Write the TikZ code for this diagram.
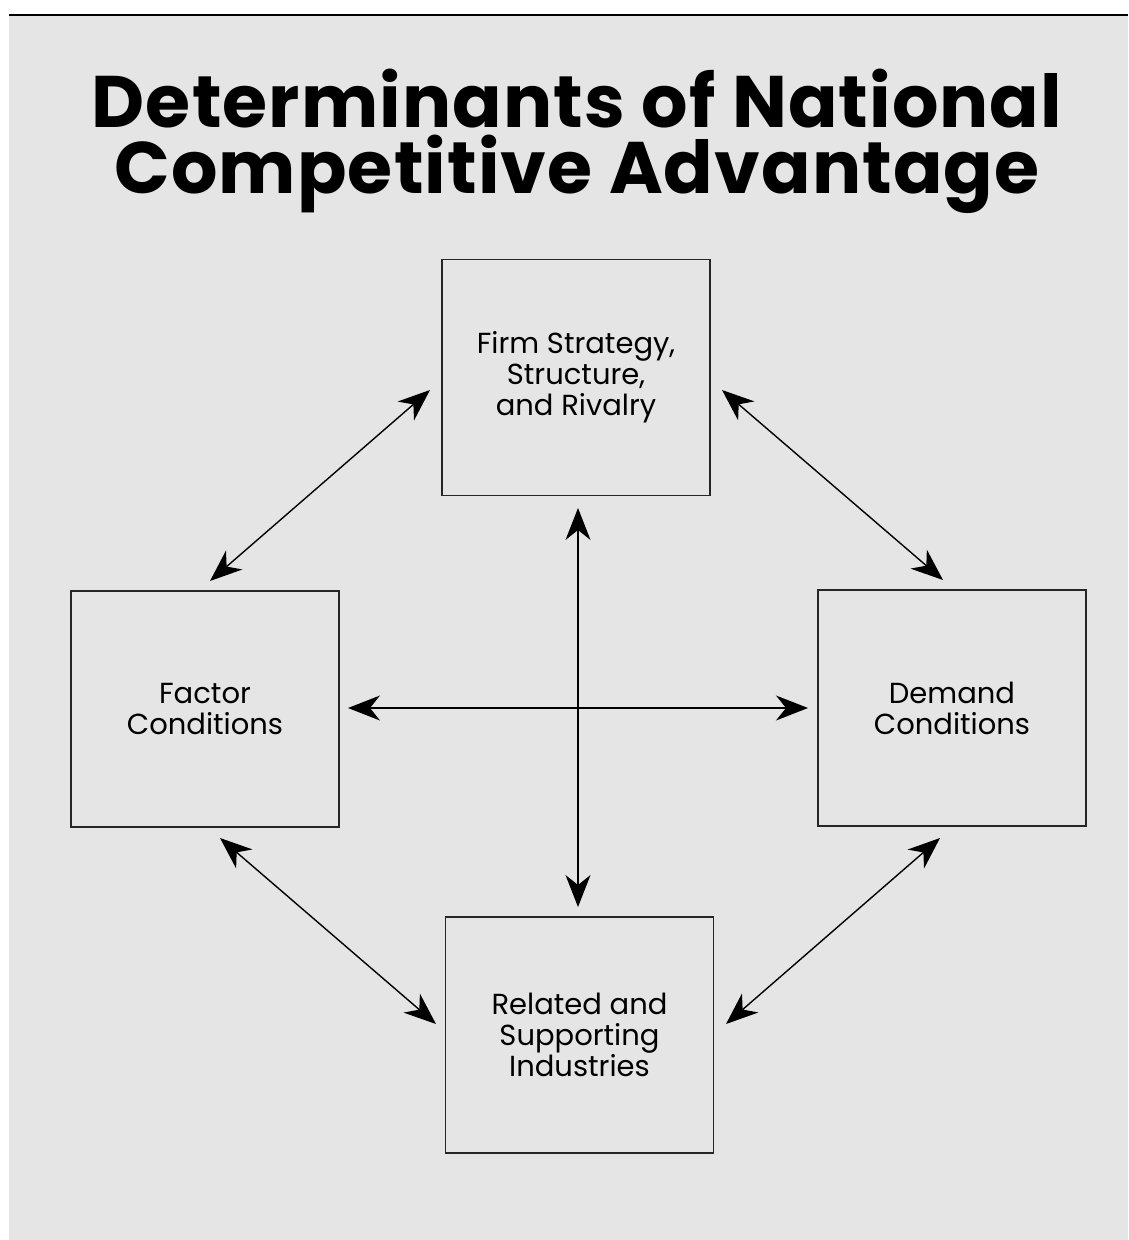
\documentclass[tikz,border=0pt]{standalone}
\usepackage{fontspec}
\setmainfont{Poppins}
\usetikzlibrary{arrows.meta}
\definecolor{bggray}{HTML}{E5E5E5}
\begin{document}
\begin{tikzpicture}[x=1pt,y=-1pt,
  boxstyle/.style={draw=black!85,line width=1.4pt,rectangle,minimum width=268pt,minimum height=236pt,inner sep=0pt,align=center,font=\fontsize{29}{31}\selectfont},
  titlestyle/.style={font=\fontsize{73}{66}\selectfont\bfseries\addfontfeatures{LetterSpace=1.5},inner sep=0pt},
  link/.style={line width=1.4pt,{Stealth[length=32pt,width=25pt,inset=10pt]}-{Stealth[length=32pt,width=25pt,inset=10pt]}}]
\useasboundingbox (0,0) rectangle (1128,1240);
\fill[white] (0,0) rectangle (1128,1240);
\fill[bggray] (9,16) rectangle (1128,1240);
\draw[line width=2pt] (9,15) -- (1128,15);
\node[titlestyle,anchor=base] (title1) at (577,127) {Determinants of National};
\node[titlestyle,anchor=base] (title2) at (577,193) {Competitive Advantage};
\node[boxstyle] (firm) at (576,377.5) {Firm Strategy,\\Structure,\\and Rivalry};
\node[boxstyle] (factor) at (205,709) {Factor\\Conditions};
\node[boxstyle] (demand) at (952,708) {Demand\\Conditions};
\node[boxstyle] (related) at (579.5,1035) {Related and\\Supporting\\Industries};
\coordinate (p1) at (210,581);
\coordinate (p2) at (430,390);
\coordinate (p3) at (722,390);
\coordinate (p4) at (943,580);
\coordinate (p5) at (220,838);
\coordinate (p6) at (436,1024);
\coordinate (p7) at (940,838);
\coordinate (p8) at (726,1024);
\coordinate (h1) at (348,708);
\coordinate (h2) at (808,708);
\coordinate (v1) at (578,508);
\coordinate (v2) at (578,907);
\draw[link] (p1) -- (p2);
\draw[link] (p3) -- (p4);
\draw[link] (p5) -- (p6);
\draw[link] (p7) -- (p8);
\draw[link] (h1) -- (h2);
\draw[link] (v1) -- (v2);
\end{tikzpicture}
\end{document}
